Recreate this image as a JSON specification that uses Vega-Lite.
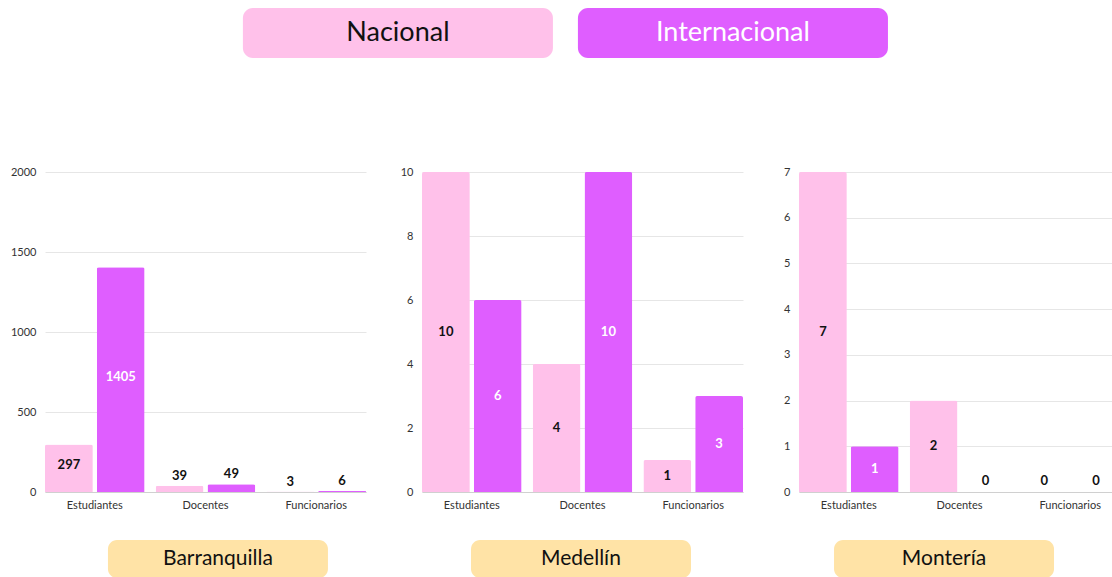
{
  "$schema": "https://vega.github.io/schema/vega-lite/v6.json",
  "padding": {"left": 10, "top": 8, "right": 0, "bottom": 0},
  "background": "white",
  "config": {
    "view": {"stroke": null},
    "font": "Lato",
    "axisY": {"minExtent": 35, "maxExtent": 35, "ticks": false, "domain": false, "gridColor": "#e6e6e6", "labelFontSize": 11, "labelColor": "#333", "labelPadding": 9, "title": null, "format": "d"},
    "axisX": {"ticks": false, "domainColor": "#d0d0d0", "labelFontSize": 11, "labelColor": "#333", "labelPadding": 7, "labelAngle": 0, "title": null, "grid": false}
  },
  "datasets": {
    "d": [
      {"ciudad": "Barranquilla", "categoria": "Estudiantes", "tipo": "Nacional", "valor": 297},
      {"ciudad": "Barranquilla", "categoria": "Estudiantes", "tipo": "Internacional", "valor": 1405},
      {"ciudad": "Barranquilla", "categoria": "Docentes", "tipo": "Nacional", "valor": 39},
      {"ciudad": "Barranquilla", "categoria": "Docentes", "tipo": "Internacional", "valor": 49},
      {"ciudad": "Barranquilla", "categoria": "Funcionarios", "tipo": "Nacional", "valor": 3},
      {"ciudad": "Barranquilla", "categoria": "Funcionarios", "tipo": "Internacional", "valor": 6},
      {"ciudad": "Medellín", "categoria": "Estudiantes", "tipo": "Nacional", "valor": 10},
      {"ciudad": "Medellín", "categoria": "Estudiantes", "tipo": "Internacional", "valor": 6},
      {"ciudad": "Medellín", "categoria": "Docentes", "tipo": "Nacional", "valor": 4},
      {"ciudad": "Medellín", "categoria": "Docentes", "tipo": "Internacional", "valor": 10},
      {"ciudad": "Medellín", "categoria": "Funcionarios", "tipo": "Nacional", "valor": 1},
      {"ciudad": "Medellín", "categoria": "Funcionarios", "tipo": "Internacional", "valor": 3},
      {"ciudad": "Montería", "categoria": "Estudiantes", "tipo": "Nacional", "valor": 7},
      {"ciudad": "Montería", "categoria": "Estudiantes", "tipo": "Internacional", "valor": 1},
      {"ciudad": "Montería", "categoria": "Docentes", "tipo": "Nacional", "valor": 2},
      {"ciudad": "Montería", "categoria": "Docentes", "tipo": "Internacional", "valor": 0},
      {"ciudad": "Montería", "categoria": "Funcionarios", "tipo": "Nacional", "valor": 0},
      {"ciudad": "Montería", "categoria": "Funcionarios", "tipo": "Internacional", "valor": 0}
    ],
    "tipos": [{"tipo": "Nacional"}, {"tipo": "Internacional"}],
    "ciudades": [{"ciudad": "Barranquilla"}, {"ciudad": "Medellín"}, {"ciudad": "Montería"}]
  },
  "spacing": 108,
  "vconcat": [
    {
      "width": 1100,
      "height": 50,
      "data": {"name": "tipos"},
      "encoding": {
        "x": {"field": "tipo", "type": "nominal", "sort": ["Nacional", "Internacional"], "axis": null,
              "scale": {"paddingInner": 0.0746, "paddingOuter": 0.679, "align": 0.435}}
      },
      "layer": [
        {"mark": {"type": "bar", "cornerRadius": 10},
         "encoding": {"color": {"field": "tipo", "type": "nominal", "scale": {"domain": ["Nacional", "Internacional"], "range": ["#FFC1EA", "#DF5EFF"]}, "legend": null}}},
        {"mark": {"type": "text", "fontSize": 27},
         "encoding": {"text": {"field": "tipo"},
                      "color": {"condition": {"test": "datum.tipo == 'Internacional'", "value": "white"}, "value": "#111"}}}
      ]
    },
    {
      "spacing": 30,
      "vconcat": [
        {
          "spacing": 21,
          "data": {"name": "d"},
          "hconcat": [
            {
              "width": 321, "height": 320,
              "transform": [{"filter": "datum.ciudad == 'Barranquilla'"}],
              "encoding": {
                "x": {"field": "categoria", "type": "nominal", "sort": ["Estudiantes", "Docentes", "Funcionarios"], "scale": {"paddingInner": 0.1, "paddingOuter": 0}},
                "xOffset": {"field": "tipo", "type": "nominal", "sort": ["Nacional", "Internacional"], "scale": {"paddingInner": 0.077}}
              },
              "layer": [
                {"mark": {"type": "bar", "cornerRadiusTopLeft": 2, "cornerRadiusTopRight": 2},
                 "encoding": {
                   "y": {"field": "valor", "type": "quantitative", "scale": {"domain": [0, 2000], "nice": false}, "axis": {"values": [0, 500, 1000, 1500, 2000]}},
                   "color": {"field": "tipo", "type": "nominal", "scale": {"domain": ["Nacional", "Internacional"], "range": ["#FFC1EA", "#DF5EFF"]}, "legend": null}
                 }},
                {"transform": [{"filter": "datum.valor >= 100"}, {"calculate": "datum.valor / 2", "as": "mitad"}],
                 "mark": {"type": "text", "fontWeight": "bold", "fontSize": 13, "dy": -3},
                 "encoding": {
                   "y": {"field": "mitad", "type": "quantitative", "scale": {"domain": [0, 2000], "nice": false}, "axis": {"values": [0, 500, 1000, 1500, 2000]}},
                   "text": {"field": "valor", "type": "quantitative"},
                   "color": {"condition": {"test": "datum.tipo == 'Internacional'", "value": "white"}, "value": "#111"}
                 }},
                {"transform": [{"filter": "datum.valor < 100"}],
                 "mark": {"type": "text", "fontWeight": "bold", "fontSize": 13, "baseline": "bottom", "dy": -3, "color": "#111"},
                 "encoding": {
                   "y": {"field": "valor", "type": "quantitative", "scale": {"domain": [0, 2000], "nice": false}, "axis": {"values": [0, 500, 1000, 1500, 2000]}},
                   "text": {"field": "valor", "type": "quantitative"}
                 }}
              ]
            },
            {
              "width": 321, "height": 320,
              "transform": [{"filter": "datum.ciudad == 'Medellín'"}],
              "encoding": {
                "x": {"field": "categoria", "type": "nominal", "sort": ["Estudiantes", "Docentes", "Funcionarios"], "scale": {"paddingInner": 0.1, "paddingOuter": 0}},
                "xOffset": {"field": "tipo", "type": "nominal", "sort": ["Nacional", "Internacional"], "scale": {"paddingInner": 0.077}}
              },
              "layer": [
                {"mark": {"type": "bar", "cornerRadiusTopLeft": 2, "cornerRadiusTopRight": 2},
                 "encoding": {
                   "y": {"field": "valor", "type": "quantitative", "scale": {"domain": [0, 10], "nice": false}, "axis": {"values": [0, 2, 4, 6, 8, 10]}},
                   "color": {"field": "tipo", "type": "nominal", "scale": {"domain": ["Nacional", "Internacional"], "range": ["#FFC1EA", "#DF5EFF"]}, "legend": null}
                 }},
                {"transform": [{"filter": "datum.valor >= 1"}, {"calculate": "datum.valor / 2", "as": "mitad"}],
                 "mark": {"type": "text", "fontWeight": "bold", "fontSize": 13},
                 "encoding": {
                   "y": {"field": "mitad", "type": "quantitative", "scale": {"domain": [0, 10], "nice": false}, "axis": {"values": [0, 2, 4, 6, 8, 10]}},
                   "text": {"field": "valor", "type": "quantitative"},
                   "color": {"condition": {"test": "datum.tipo == 'Internacional'", "value": "white"}, "value": "#111"}
                 }}
              ]
            },
            {
              "width": 321, "height": 320,
              "transform": [{"filter": "datum.ciudad == 'Montería'"}],
              "encoding": {
                "x": {"field": "categoria", "type": "nominal", "sort": ["Estudiantes", "Docentes", "Funcionarios"], "scale": {"paddingInner": 0.1, "paddingOuter": 0}},
                "xOffset": {"field": "tipo", "type": "nominal", "sort": ["Nacional", "Internacional"], "scale": {"paddingInner": 0.077}}
              },
              "layer": [
                {"mark": {"type": "bar", "cornerRadiusTopLeft": 2, "cornerRadiusTopRight": 2},
                 "encoding": {
                   "y": {"field": "valor", "type": "quantitative", "scale": {"domain": [0, 7], "nice": false}, "axis": {"values": [0, 1, 2, 3, 4, 5, 6, 7]}},
                   "color": {"field": "tipo", "type": "nominal", "scale": {"domain": ["Nacional", "Internacional"], "range": ["#FFC1EA", "#DF5EFF"]}, "legend": null}
                 }},
                {"transform": [{"filter": "datum.valor >= 1"}, {"calculate": "datum.valor / 2", "as": "mitad"}],
                 "mark": {"type": "text", "fontWeight": "bold", "fontSize": 13},
                 "encoding": {
                   "y": {"field": "mitad", "type": "quantitative", "scale": {"domain": [0, 7], "nice": false}, "axis": {"values": [0, 1, 2, 3, 4, 5, 6, 7]}},
                   "text": {"field": "valor", "type": "quantitative"},
                   "color": {"condition": {"test": "datum.tipo == 'Internacional'", "value": "white"}, "value": "#111"}
                 }},
                {"transform": [{"filter": "datum.valor < 1"}],
                 "mark": {"type": "text", "fontWeight": "bold", "fontSize": 13, "baseline": "bottom", "dy": -4, "color": "#111"},
                 "encoding": {
                   "y": {"field": "valor", "type": "quantitative", "scale": {"domain": [0, 7], "nice": false}, "axis": {"values": [0, 1, 2, 3, 4, 5, 6, 7]}},
                   "text": {"field": "valor", "type": "quantitative"}
                 }}
              ]
            }
          ]
        },
        {
          "width": 1100,
          "height": 38,
          "data": {"name": "ciudades"},
          "encoding": {
            "x": {"field": "ciudad", "type": "nominal", "sort": ["Barranquilla", "Medellín", "Montería"], "axis": null,
                  "scale": {"paddingInner": 0.394, "paddingOuter": 0.212, "align": 0.409}}
          },
          "layer": [
            {"mark": {"type": "bar", "cornerRadius": 9, "color": "#FFE3A6"}, "encoding": {}},
            {"mark": {"type": "text", "fontSize": 21, "color": "#111"}, "encoding": {"text": {"field": "ciudad"}}}
          ]
        }
      ]
    }
  ]
}
